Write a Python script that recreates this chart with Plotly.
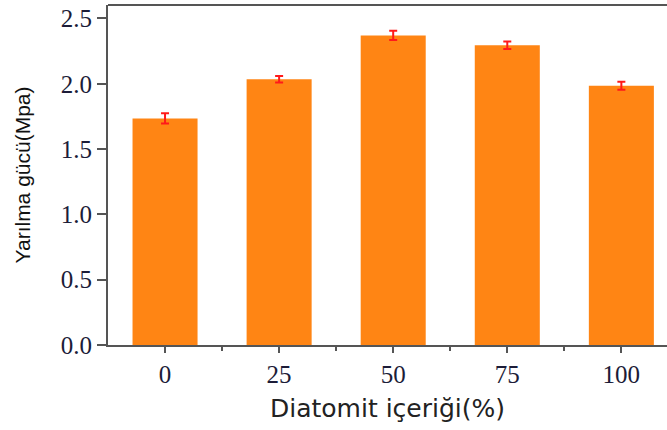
import plotly.graph_objects as go

categories = ["0", "25", "50", "75", "100"]
values = [1.735, 2.035, 2.37, 2.295, 1.985]
errors = [0.04, 0.025, 0.035, 0.028, 0.03]
y_ticks = [0.0, 0.5, 1.0, 1.5, 2.0, 2.5]
y_tick_labels = ["0.0", "0.5", "1.0", "1.5", "2.0", "2.5"]

xpos = list(range(len(categories)))

fig = go.Figure()
fig.add_trace(go.Bar(
    x=xpos, y=values, width=0.57,
    marker=dict(color="#FF8514", line=dict(width=0)),
    error_y=dict(type="data", array=errors, visible=True, color="#FF1A1A",
                 thickness=2, width=4),
))

axis_color = "#555555"
tick_font = dict(family="Liberation Serif, Times New Roman, serif", size=25, color="#1c1c38")

fig.update_layout(
    width=667, height=430,
    margin=dict(l=108, r=0, t=5, b=85),
    plot_bgcolor="white", paper_bgcolor="white",
    showlegend=False,
    xaxis=dict(
        range=[-0.5, 4.4], tickmode="array", tickvals=xpos, ticktext=categories,
        ticks="outside", ticklen=6, tickwidth=2, tickcolor=axis_color,
        minor=dict(tickmode="array", tickvals=[0.5, 1.5, 2.5, 3.5], ticks="outside",
                   ticklen=4, tickwidth=2, tickcolor=axis_color),
        showline=True, linecolor=axis_color, linewidth=2, mirror=False,
        showgrid=False, zeroline=False, tickfont=tick_font,
        title=dict(text="Diatomit içeriği(%)", standoff=12,
                   font=dict(family="DejaVu Sans, sans-serif", size=25, color="#222222")),
    ),
    yaxis=dict(
        range=[0, 2.603], tickmode="array", tickvals=y_ticks, ticktext=y_tick_labels,
        ticks="outside", ticklen=9, tickwidth=2, tickcolor=axis_color,
        showline=True, linecolor=axis_color, linewidth=2, mirror=False,
        showgrid=False, zeroline=False, tickfont=tick_font,
        title=dict(text="Yarılma gücü(Mpa)", standoff=24,
                   font=dict(family="Liberation Sans Narrow, Arial Narrow, Liberation Sans, sans-serif",
                             size=21, color="#111111")),
    ),
    shapes=[dict(type="line", xref="paper", yref="paper", x0=0, x1=1, y0=1, y1=1,
                 line=dict(color=axis_color, width=2))],
)

fig.write_html("out.html")
